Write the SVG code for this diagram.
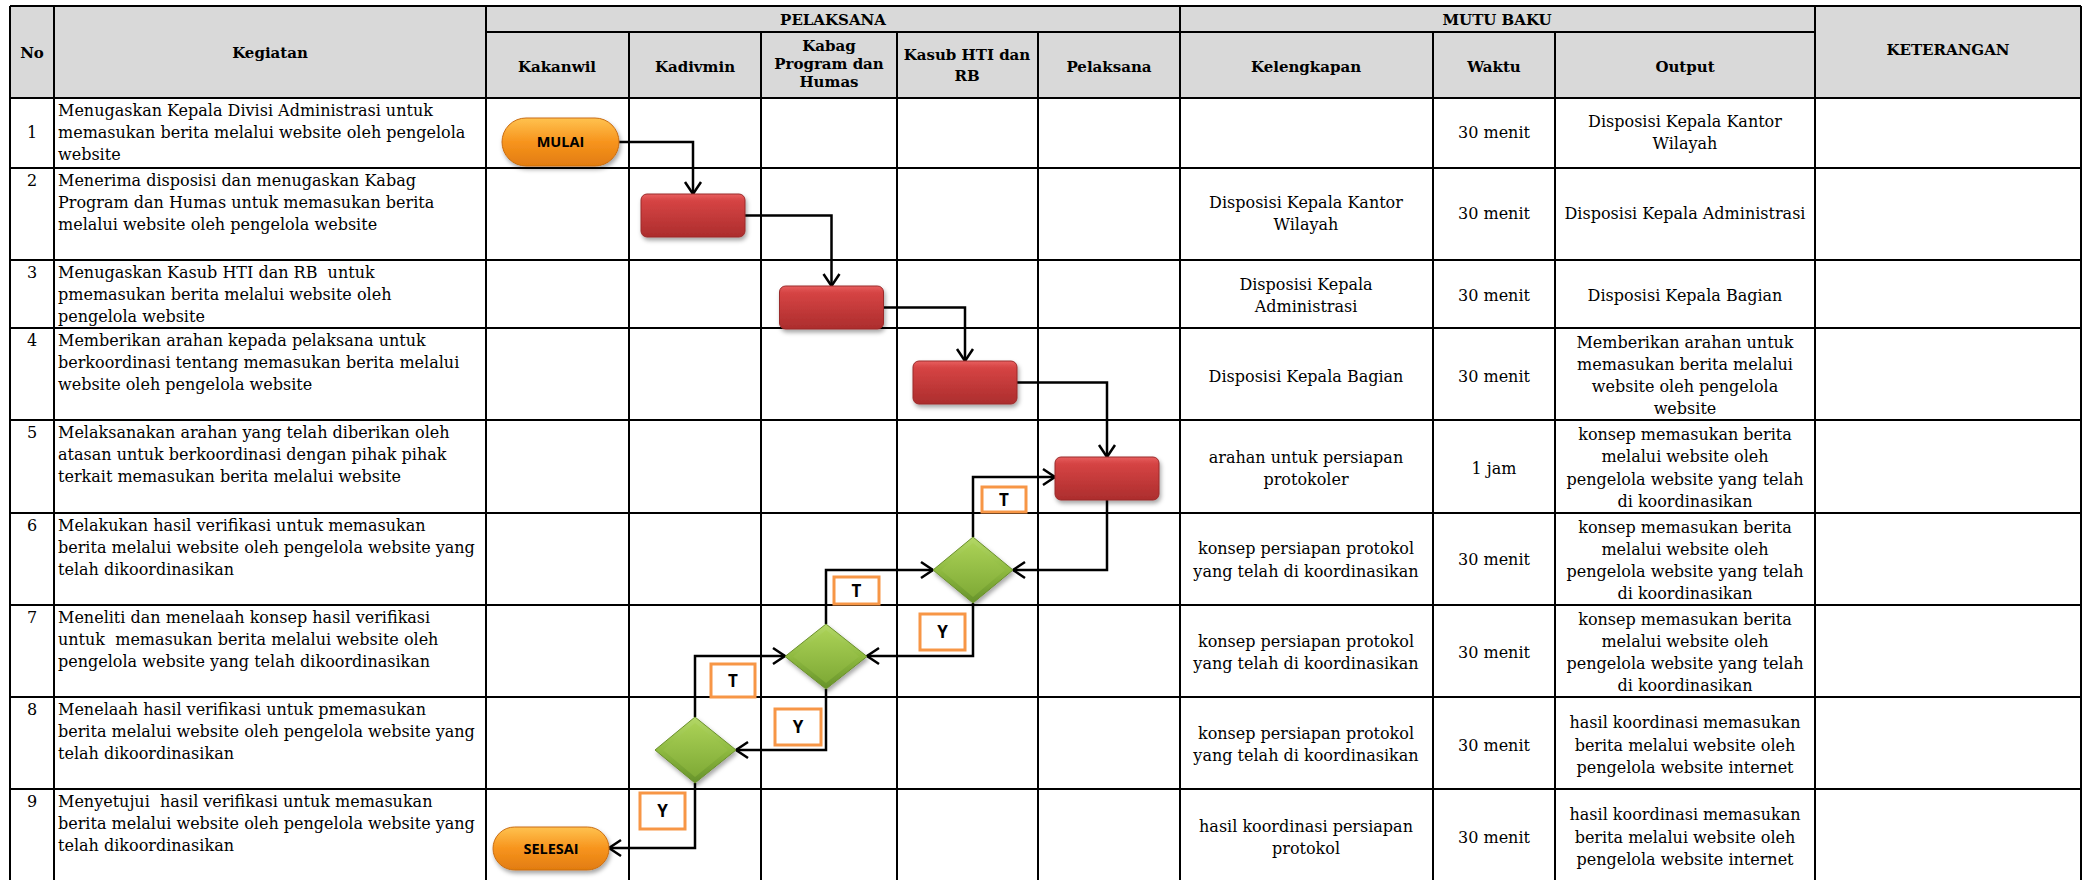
<svg xmlns="http://www.w3.org/2000/svg" width="2087" height="880" viewBox="0 0 2087 880">
<style>
.grid{stroke:#000;stroke-width:2;fill:none}
.t{font-family:"DejaVu Serif","Liberation Serif",serif;font-size:16px;fill:#000}
.c{text-anchor:middle}
.h{font-family:"DejaVu Serif","Liberation Serif",serif;font-size:15px;font-weight:bold;fill:#000;text-anchor:middle}
.proc{fill:url(#gRed);stroke:#9a2a2a;stroke-width:1;filter:url(#sh)}
.term{fill:url(#gOr);stroke:#c96d12;stroke-width:1;filter:url(#sh)}
.dec{fill:url(#gGr);stroke:#6a8f2c;stroke-width:1;filter:url(#sh)}
.deci{fill:url(#gGr2);stroke:none}
.tt{font-family:"Open Sans","Liberation Sans",sans-serif;font-size:14.5px;font-weight:bold;fill:#000;text-anchor:middle}
.conn{fill:none;stroke:#000;stroke-width:2.5;marker-end:url(#arr)}
.lbox{fill:#fff;stroke:#f79646;stroke-width:3}
.lt{font-family:"Open Sans","Liberation Sans",sans-serif;font-size:17px;font-weight:bold;fill:#000;text-anchor:middle}
</style>
<defs>
<linearGradient id="gRed" x1="0" y1="0" x2="0" y2="1">
<stop offset="0" stop-color="#e86060"/><stop offset="0.15" stop-color="#d64444"/><stop offset="1" stop-color="#ac2d2d"/>
</linearGradient>
<linearGradient id="gOr" x1="0" y1="0" x2="0" y2="1">
<stop offset="0" stop-color="#ffc24f"/><stop offset="0.5" stop-color="#f7941d"/><stop offset="1" stop-color="#e27c10"/>
</linearGradient>
<linearGradient id="gGr" x1="0" y1="0" x2="0" y2="1">
<stop offset="0" stop-color="#b4d867"/><stop offset="0.5" stop-color="#8fba40"/><stop offset="1" stop-color="#66922a"/>
</linearGradient>
<linearGradient id="gGr2" x1="0" y1="0" x2="0" y2="1">
<stop offset="0" stop-color="#a9d055"/><stop offset="1" stop-color="#7faa36"/>
</linearGradient>
<filter id="sh" x="-20%" y="-20%" width="150%" height="160%">
<feDropShadow dx="1.5" dy="3" stdDeviation="2" flood-color="#000" flood-opacity="0.35"/>
</filter>
<marker id="arr" markerUnits="userSpaceOnUse" markerWidth="18" markerHeight="20" refX="14" refY="10" orient="auto">
<path d="M2,2 L14,10 L2,18" fill="none" stroke="#000" stroke-width="2.5"/>
</marker>
</defs>
<rect width="2087" height="880" fill="#fff"/>
<g id="table">
<rect x="10" y="6" width="2071" height="92" fill="#d9d9d9"/>
<path class="grid" d="M10,6H2081M486,32H1815M10,98H2081M10,168H2081M10,260H2081M10,328H2081M10,420H2081M10,513H2081M10,605H2081M10,697H2081M10,789H2081"/>
<path class="grid" d="M10,6V880M54,6V880M486,6V880M629,32V880M761,32V880M897,32V880M1038,32V880M1180,6V880M1433,32V880M1555,32V880M1815,6V880M2081,6V880"/>
<text class="h" x="32" y="58">No</text>
<text class="h" x="270" y="58">Kegiatan</text>
<text class="h" x="833" y="25">PELAKSANA</text>
<text class="h" x="1497" y="25">MUTU BAKU</text>
<text class="h" x="1948" y="55">KETERANGAN</text>
<text class="h" x="557" y="72">Kakanwil</text>
<text class="h" x="695" y="72">Kadivmin</text>
<text class="h" x="829" y="51">Kabag</text>
<text class="h" x="829" y="69">Program dan</text>
<text class="h" x="829" y="87">Humas</text>
<text class="h" x="967" y="60">Kasub HTI dan</text>
<text class="h" x="967" y="81">RB</text>
<text class="h" x="1109" y="72">Pelaksana</text>
<text class="h" x="1306" y="72">Kelengkapan</text>
<text class="h" x="1494" y="72">Waktu</text>
<text class="h" x="1685" y="72">Output</text>
</g>
<g id="rows">
<text class="t c" x="32" y="138">1</text>
<text class="t" x="58" y="115.5">Menugaskan Kepala Divisi Administrasi untuk</text>
<text class="t" x="58" y="137.5">memasukan berita melalui website oleh pengelola</text>
<text class="t" x="58" y="159.5">website</text>
<text class="t c" x="1494" y="138">30 menit</text>
<text class="t c" x="1685" y="127">Disposisi Kepala Kantor</text>
<text class="t c" x="1685" y="149">Wilayah</text>

<text class="t c" x="32" y="185.5">2</text>
<text class="t" x="58" y="185.5">Menerima disposisi dan menugaskan Kabag</text>
<text class="t" x="58" y="207.5">Program dan Humas untuk memasukan berita</text>
<text class="t" x="58" y="229.5">melalui website oleh pengelola website</text>
<text class="t c" x="1306" y="208">Disposisi Kepala Kantor</text>
<text class="t c" x="1306" y="230">Wilayah</text>
<text class="t c" x="1494" y="219">30 menit</text>
<text class="t c" x="1685" y="219">Disposisi Kepala Administrasi</text>

<text class="t c" x="32" y="277.5">3</text>
<text class="t" x="58" y="277.5" xml:space="preserve">Menugaskan Kasub HTI dan RB  untuk</text>
<text class="t" x="58" y="299.5">pmemasukan berita melalui website oleh</text>
<text class="t" x="58" y="321.5">pengelola website</text>
<text class="t c" x="1306" y="289.5">Disposisi Kepala</text>
<text class="t c" x="1306" y="311.5">Administrasi</text>
<text class="t c" x="1494" y="300.5">30 menit</text>
<text class="t c" x="1685" y="300.5">Disposisi Kepala Bagian</text>

<text class="t c" x="32" y="345.5">4</text>
<text class="t" x="58" y="345.5">Memberikan arahan kepada pelaksana untuk</text>
<text class="t" x="58" y="367.5">berkoordinasi tentang memasukan berita melalui</text>
<text class="t" x="58" y="389.5">website oleh pengelola website</text>
<text class="t c" x="1306" y="381.5">Disposisi Kepala Bagian</text>
<text class="t c" x="1494" y="381.5">30 menit</text>
<text class="t c" x="1685" y="348">Memberikan arahan untuk</text>
<text class="t c" x="1685" y="370">memasukan berita melalui</text>
<text class="t c" x="1685" y="392">website oleh pengelola</text>
<text class="t c" x="1685" y="414">website</text>

<text class="t c" x="32" y="437.5">5</text>
<text class="t" x="58" y="437.5">Melaksanakan arahan yang telah diberikan oleh</text>
<text class="t" x="58" y="459.5">atasan untuk berkoordinasi dengan pihak pihak</text>
<text class="t" x="58" y="481.5">terkait memasukan berita melalui website</text>
<text class="t c" x="1306" y="462.5">arahan untuk persiapan</text>
<text class="t c" x="1306" y="484.5">protokoler</text>
<text class="t c" x="1494" y="474">1 jam</text>
<text class="t c" x="1685" y="440">konsep memasukan berita</text>
<text class="t c" x="1685" y="462">melalui website oleh</text>
<text class="t c" x="1685" y="484.5">pengelola website yang telah</text>
<text class="t c" x="1685" y="507">di koordinasikan</text>

<text class="t c" x="32" y="530.5">6</text>
<text class="t" x="58" y="530.5">Melakukan hasil verifikasi untuk memasukan</text>
<text class="t" x="58" y="552.5">berita melalui website oleh pengelola website yang</text>
<text class="t" x="58" y="574.5">telah dikoordinasikan</text>
<text class="t c" x="1306" y="554">konsep persiapan protokol</text>
<text class="t c" x="1306" y="576.5">yang telah di koordinasikan</text>
<text class="t c" x="1494" y="565">30 menit</text>
<text class="t c" x="1685" y="533">konsep memasukan berita</text>
<text class="t c" x="1685" y="555">melalui website oleh</text>
<text class="t c" x="1685" y="577">pengelola website yang telah</text>
<text class="t c" x="1685" y="599">di koordinasikan</text>

<text class="t c" x="32" y="622.5">7</text>
<text class="t" x="58" y="622.5">Meneliti dan menelaah konsep hasil verifikasi</text>
<text class="t" x="58" y="644.5" xml:space="preserve">untuk  memasukan berita melalui website oleh</text>
<text class="t" x="58" y="666.5">pengelola website yang telah dikoordinasikan</text>
<text class="t c" x="1306" y="646.5">konsep persiapan protokol</text>
<text class="t c" x="1306" y="669">yang telah di koordinasikan</text>
<text class="t c" x="1494" y="657.5">30 menit</text>
<text class="t c" x="1685" y="625">konsep memasukan berita</text>
<text class="t c" x="1685" y="647">melalui website oleh</text>
<text class="t c" x="1685" y="669">pengelola website yang telah</text>
<text class="t c" x="1685" y="691">di koordinasikan</text>

<text class="t c" x="32" y="714.5">8</text>
<text class="t" x="58" y="714.5">Menelaah hasil verifikasi untuk pmemasukan</text>
<text class="t" x="58" y="736.5">berita melalui website oleh pengelola website yang</text>
<text class="t" x="58" y="758.5">telah dikoordinasikan</text>
<text class="t c" x="1306" y="738.5">konsep persiapan protokol</text>
<text class="t c" x="1306" y="761">yang telah di koordinasikan</text>
<text class="t c" x="1494" y="750.5">30 menit</text>
<text class="t c" x="1685" y="728">hasil koordinasi memasukan</text>
<text class="t c" x="1685" y="750.5">berita melalui website oleh</text>
<text class="t c" x="1685" y="773">pengelola website internet</text>

<text class="t c" x="32" y="806.5">9</text>
<text class="t" x="58" y="806.5" xml:space="preserve">Menyetujui  hasil verifikasi untuk memasukan</text>
<text class="t" x="58" y="828.5">berita melalui website oleh pengelola website yang</text>
<text class="t" x="58" y="850.5">telah dikoordinasikan</text>
<text class="t c" x="1306" y="831.5">hasil koordinasi persiapan</text>
<text class="t c" x="1306" y="853.5">protokol</text>
<text class="t c" x="1494" y="842.5">30 menit</text>
<text class="t c" x="1685" y="820">hasil koordinasi memasukan</text>
<text class="t c" x="1685" y="842.5">berita melalui website oleh</text>
<text class="t c" x="1685" y="865">pengelola website internet</text>
</g>
<g id="connectors">
<path class="conn" d="M619,142H693V194"/>
<path class="conn" d="M745,215.5H831.5V286"/>
<path class="conn" d="M883.5,307.5H965V361"/>
<path class="conn" d="M1017,382.5H1107V457"/>
<path class="conn" d="M1107,500V570H1013"/>
<path class="conn" d="M973,537V477H1055"/>
<path class="conn" d="M973,603V656H867"/>
<path class="conn" d="M826,624V570H933"/>
<path class="conn" d="M826,689V750H736"/>
<path class="conn" d="M695,717V656H785"/>
<path class="conn" d="M695,783V848H609"/>
<g id="lbl-t1"><rect class="lbox" x="982" y="487" width="44" height="25"/><text class="lt" x="1004" y="506">T</text></g>
<g id="lbl-y1"><rect class="lbox" x="920" y="614" width="45" height="36"/><text class="lt" x="942.5" y="638">Y</text></g>
<g id="lbl-t2"><rect class="lbox" x="834" y="577" width="45" height="27"/><text class="lt" x="856.5" y="597">T</text></g>
<g id="lbl-y2"><rect class="lbox" x="775" y="709" width="46" height="36"/><text class="lt" x="798" y="733">Y</text></g>
<g id="lbl-t3"><rect class="lbox" x="711" y="664" width="44" height="33"/><text class="lt" x="733" y="686.5">T</text></g>
<g id="lbl-y3"><rect class="lbox" x="640" y="793" width="45" height="36"/><text class="lt" x="662.5" y="817">Y</text></g>
</g>
<g id="n-mulai"><rect class="term" x="502" y="118" width="117" height="48" rx="24"/><text class="tt" x="560.5" y="147">MULAI</text></g>
<g id="n-p1"><rect class="proc" x="641" y="194" width="104" height="43" rx="6"/></g>
<g id="n-p2"><rect class="proc" x="779.5" y="286" width="104" height="43" rx="6"/></g>
<g id="n-p3"><rect class="proc" x="913" y="361" width="104" height="43" rx="6"/></g>
<g id="n-p4"><rect class="proc" x="1055" y="457" width="104" height="43" rx="6"/></g>
<g id="n-d1"><path class="dec" d="M973,537L1013,570L973,603L933,570Z"/><path class="deci" d="M973,543L1005,570L973,597L941,570Z"/></g>
<g id="n-d2"><path class="dec" d="M826,624L867,656.5L826,689L785,656.5Z"/><path class="deci" d="M826,630L859,656.5L826,683L793,656.5Z"/></g>
<g id="n-d3"><path class="dec" d="M695,717L736,750L695,783L655,750Z"/><path class="deci" d="M695,723L728,750L695,777L663,750Z"/></g>
<g id="n-selesai"><rect class="term" x="493" y="827" width="116" height="43" rx="21.5"/><text class="tt" x="551" y="853.5">SELESAI</text></g>
</svg>
